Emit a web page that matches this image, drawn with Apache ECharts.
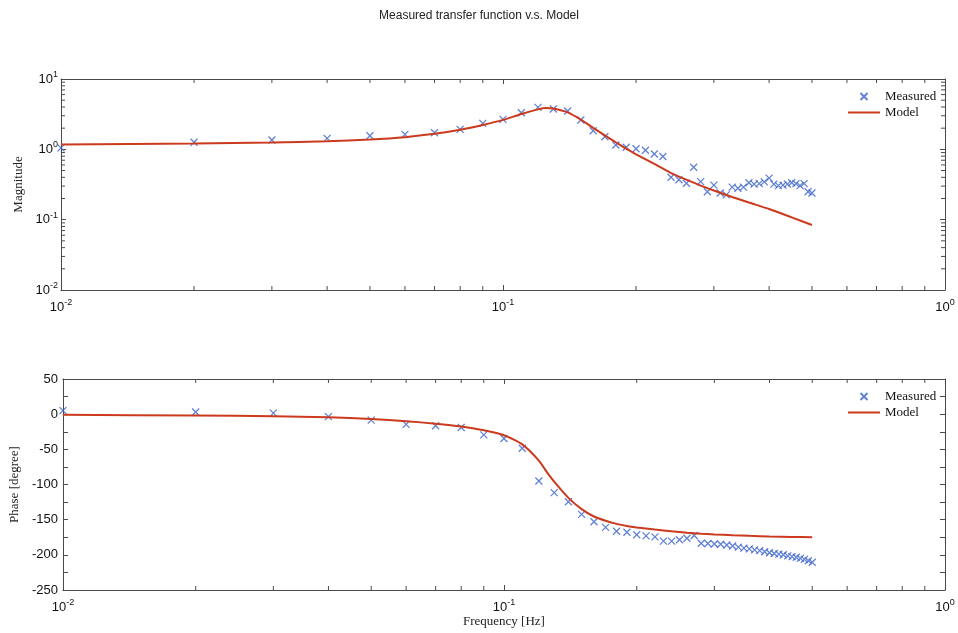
<!DOCTYPE html>
<html>
<head>
<meta charset="utf-8">
<script src="https://cdn.jsdelivr.net/npm/echarts@6/dist/echarts.min.js"></script>
<style>
  html, body { margin: 0; padding: 0; background: #ffffff; }
  #chart { width: 958px; height: 633px; }
</style>
</head>
<body>
<div id="chart"></div>
<script>
// Measured frequency points [Hz]
const freq = [
  0.01, 0.02, 0.03, 0.04, 0.05, 0.06, 0.07, 0.08, 0.09, 0.10,
  0.11, 0.12, 0.13, 0.14, 0.15, 0.16, 0.17, 0.18, 0.19, 0.20,
  0.21, 0.22, 0.23, 0.24, 0.25, 0.26, 0.27, 0.28, 0.29, 0.30,
  0.31, 0.32, 0.33, 0.34, 0.35, 0.36, 0.37, 0.38, 0.39, 0.40,
  0.41, 0.42, 0.43, 0.44, 0.45, 0.46, 0.47, 0.48, 0.49, 0.50
];
// Measured magnitude
const magMeasured = [
  1.05, 1.26, 1.36, 1.43, 1.56, 1.63, 1.72, 1.92, 2.34, 2.67,
  3.31, 3.95, 3.74, 3.50, 2.61, 1.84, 1.51, 1.15, 1.07, 1.02,
  0.97, 0.86, 0.79, 0.40, 0.37, 0.33, 0.555, 0.347, 0.25, 0.31,
  0.24, 0.225, 0.29, 0.28, 0.29, 0.335, 0.32, 0.325, 0.345, 0.39,
  0.32, 0.305, 0.31, 0.32, 0.335, 0.325, 0.305, 0.325, 0.25, 0.24
];
// Measured phase [degree]
const phaseMeasured = [
  5, 3, 1.5, -3.5, -8.5, -14.5, -16.5, -19, -29.5, -34.5,
  -48.5, -95, -111.5, -124.5, -142.5, -153, -161, -166.5, -168, -171.5,
  -173, -174.5, -180.5, -180.5, -178.5, -176.5, -172.5, -183.5, -184, -184.5,
  -185, -186, -187.5, -189, -190.5, -191.5, -193, -194, -195.5, -197,
  -198, -199, -200, -201.5, -202.5, -203.5, -205, -206.5, -208.5, -210.5
];
// Model curve
const modelFreq = [
  0.01, 0.02, 0.03, 0.04, 0.05, 0.06, 0.07, 0.08, 0.09, 0.10,
  0.11, 0.12, 0.125, 0.13, 0.14, 0.15, 0.16, 0.17, 0.18, 0.19,
  0.20, 0.22, 0.24, 0.26, 0.28, 0.30, 0.33, 0.36, 0.40, 0.45, 0.50
];
const modelMag = [
  1.17, 1.21, 1.25, 1.30, 1.38, 1.49, 1.66, 1.90, 2.22, 2.62,
  3.18, 3.70, 3.88, 3.80, 3.35, 2.65, 2.02, 1.58, 1.26, 1.02,
  0.85, 0.62, 0.46, 0.37, 0.305, 0.26, 0.21, 0.175, 0.142, 0.108, 0.084
];
const modelPhase = [
  -1, -1.8, -3, -4.4, -7, -10, -13.5, -17.5, -23, -30,
  -43, -66, -82, -96, -119, -135, -145.5, -151.5, -156, -159,
  -161, -164, -166.5, -168.5, -170, -171, -172.2, -173, -173.8, -174.5, -175
];
// Minor tick positions on the log axes
const minorFreqTicks = [0.02, 0.03, 0.04, 0.05, 0.06, 0.07, 0.08, 0.09,
                        0.2, 0.3, 0.4, 0.5, 0.6, 0.7, 0.8, 0.9];
const minorMagTicks = [0.02, 0.03, 0.04, 0.05, 0.06, 0.07, 0.08, 0.09,
                       0.2, 0.3, 0.4, 0.5, 0.6, 0.7, 0.8, 0.9,
                       2, 3, 4, 5, 6, 7, 8, 9];

const sans = 'Liberation Sans, Arial, sans-serif';
const serif = 'Liberation Serif, Times New Roman, serif';
const frameColor = '#4a4a4a';
const markerColor = '#3a62cc';
const lineColor = '#cc3a1e';

function zip(a, b) { return a.map((v, i) => [v, b[i]]); }

function powLabel(v) {
  const e = Math.round(Math.log10(v));
  return '{b|10}{s|' + (e < 0 ? '-' + (-e) : String(e)) + '}';
}
const powRich = {
  b: { fontSize: 13, fontFamily: sans, color: '#111', lineHeight: 18 },
  s: { fontSize: 9, fontFamily: sans, color: '#111', lineHeight: 8, verticalAlign: 'top' }
};

const crossSymbol = 'path://M0,0L10,10M10,0L0,10';
const lineIcon = 'path://M0,0L32,0L32,2L0,2Z';

function frameAxisLine() {
  return { show: true, onZero: false, lineStyle: { color: frameColor, width: 1 } };
}

// Minor ticks drawn on two opposite edges of a grid
function xMinorTicks(xIdx, yIdx, yLo, yHi) {
  return {
    type: 'custom', xAxisIndex: xIdx, yAxisIndex: yIdx, silent: true, clip: false, z: 1,
    data: minorFreqTicks.map(v => [v, yLo]),
    renderItem: function (params, api) {
      const v = api.value(0);
      const b = api.coord([v, yLo]);
      const t = api.coord([v, yHi]);
      const st = { stroke: frameColor, lineWidth: 1 };
      return { type: 'group', children: [
        { type: 'line', shape: { x1: b[0], y1: b[1], x2: b[0], y2: b[1] - 4 }, style: st },
        { type: 'line', shape: { x1: t[0], y1: t[1], x2: t[0], y2: t[1] + 4 }, style: st }
      ]};
    }
  };
}
function yMinorTicks(xIdx, yIdx, xLo, xHi) {
  return {
    type: 'custom', xAxisIndex: xIdx, yAxisIndex: yIdx, silent: true, clip: false, z: 1,
    data: minorMagTicks.map(v => [xLo, v]),
    renderItem: function (params, api) {
      const v = api.value(1);
      const l = api.coord([xLo, v]);
      const r = api.coord([xHi, v]);
      const st = { stroke: frameColor, lineWidth: 1 };
      return { type: 'group', children: [
        { type: 'line', shape: { x1: l[0], y1: l[1], x2: l[0] + 4, y2: l[1] }, style: st },
        { type: 'line', shape: { x1: r[0], y1: r[1], x2: r[0] - 4, y2: r[1] }, style: st }
      ]};
    }
  };
}

function logX(gridIndex, pos, showLabels, name) {
  return {
    type: 'log', logBase: 10, gridIndex: gridIndex, position: pos, min: 0.01, max: 1,
    axisLine: frameAxisLine(),
    axisTick: { show: true, inside: true, length: 5, lineStyle: { color: frameColor } },
    axisLabel: showLabels ? { show: true, margin: 8, formatter: powLabel, rich: powRich } : { show: false },
    splitLine: { show: false },
    name: name || '',
    nameLocation: 'middle', nameGap: 25,
    nameTextStyle: { fontFamily: serif, fontSize: 13, color: '#222' }
  };
}

const chart = echarts.init(document.getElementById('chart'), null, { renderer: 'canvas' });

const legendCommon = {
  orient: 'vertical', left: 843, itemWidth: 32, itemHeight: 7, itemGap: 3,
  selectedMode: false,
  data: [{ name: 'Measured' }, { name: 'Model', icon: lineIcon }],
  textStyle: { fontFamily: serif, fontSize: 13, color: '#111' }
};

chart.setOption({
  backgroundColor: '#ffffff',
  animation: false,
  title: {
    text: 'Measured transfer function v.s. Model',
    left: 'center', top: 5,
    textStyle: { fontFamily: sans, fontSize: 12, fontWeight: 'normal', color: '#222' }
  },
  legend: [
    Object.assign({ top: 85 }, legendCommon),
    Object.assign({ top: 385 }, legendCommon)
  ],
  grid: [
    { left: 61, right: 13, top: 79, height: 211 },
    { left: 61, right: 13, top: 379, height: 211 }
  ],
  xAxis: [
    logX(0, 'bottom', true),
    logX(0, 'top', false),
    logX(1, 'bottom', true, 'Frequency [Hz]'),
    logX(1, 'top', false)
  ],
  yAxis: [
    {
      type: 'log', logBase: 10, gridIndex: 0, position: 'left', min: 0.01, max: 10,
      axisLine: frameAxisLine(),
      axisTick: { show: true, inside: true, length: 5, lineStyle: { color: frameColor } },
      axisLabel: { margin: 3, formatter: powLabel, rich: powRich },
      splitLine: { show: false },
      name: 'Magnitude', nameLocation: 'middle', nameGap: 35, nameRotate: 90,
      nameTextStyle: { fontFamily: serif, fontSize: 13, color: '#222' }
    },
    {
      type: 'log', logBase: 10, gridIndex: 0, position: 'right', min: 0.01, max: 10,
      axisLine: frameAxisLine(),
      axisTick: { show: true, inside: true, length: 5, lineStyle: { color: frameColor } },
      axisLabel: { show: false }, splitLine: { show: false }
    },
    {
      type: 'value', gridIndex: 1, position: 'left', min: -250, max: 50, interval: 50,
      axisLine: frameAxisLine(),
      axisTick: { show: true, inside: true, length: 5, lineStyle: { color: frameColor } },
      minorTick: { show: true, splitNumber: 2, length: 5, lineStyle: { color: frameColor } },
      axisLabel: { margin: 5, fontFamily: sans, fontSize: 13, color: '#111' },
      splitLine: { show: false },
      name: 'Phase [degree]', nameLocation: 'middle', nameGap: 35, nameRotate: 90,
      nameTextStyle: { fontFamily: serif, fontSize: 13, color: '#222' }
    },
    {
      type: 'value', gridIndex: 1, position: 'right', min: -250, max: 50, interval: 50,
      axisLine: frameAxisLine(),
      axisTick: { show: true, inside: true, length: 5, lineStyle: { color: frameColor } },
      minorTick: { show: true, splitNumber: 2, length: 5, lineStyle: { color: frameColor } },
      axisLabel: { show: false }, splitLine: { show: false }
    }
  ],
  series: [
    {
      name: 'Measured', type: 'scatter', xAxisIndex: 0, yAxisIndex: 0,
      data: zip(freq, magMeasured), symbol: crossSymbol, symbolSize: 7,
      itemStyle: { color: 'rgba(0,0,0,0)', borderColor: markerColor, borderWidth: 1.3 }, z: 3
    },
    {
      name: 'Model', type: 'line', xAxisIndex: 0, yAxisIndex: 0,
      data: zip(modelFreq, modelMag), symbol: 'none', smooth: 0.2,
      lineStyle: { color: lineColor, width: 2 }, itemStyle: { color: lineColor }, z: 4
    },
    {
      name: 'Measured', type: 'scatter', xAxisIndex: 2, yAxisIndex: 2,
      data: zip(freq, phaseMeasured), symbol: crossSymbol, symbolSize: 7,
      itemStyle: { color: 'rgba(0,0,0,0)', borderColor: markerColor, borderWidth: 1.3 }, z: 3
    },
    {
      name: 'Model', type: 'line', xAxisIndex: 2, yAxisIndex: 2,
      data: zip(modelFreq, modelPhase), symbol: 'none', smooth: 0.2,
      lineStyle: { color: lineColor, width: 2 }, itemStyle: { color: lineColor }, z: 4
    },
    xMinorTicks(0, 0, 0.01, 10),
    yMinorTicks(0, 0, 0.01, 1),
    xMinorTicks(2, 2, -250, 50)
  ]
});
</script>
</body>
</html>
